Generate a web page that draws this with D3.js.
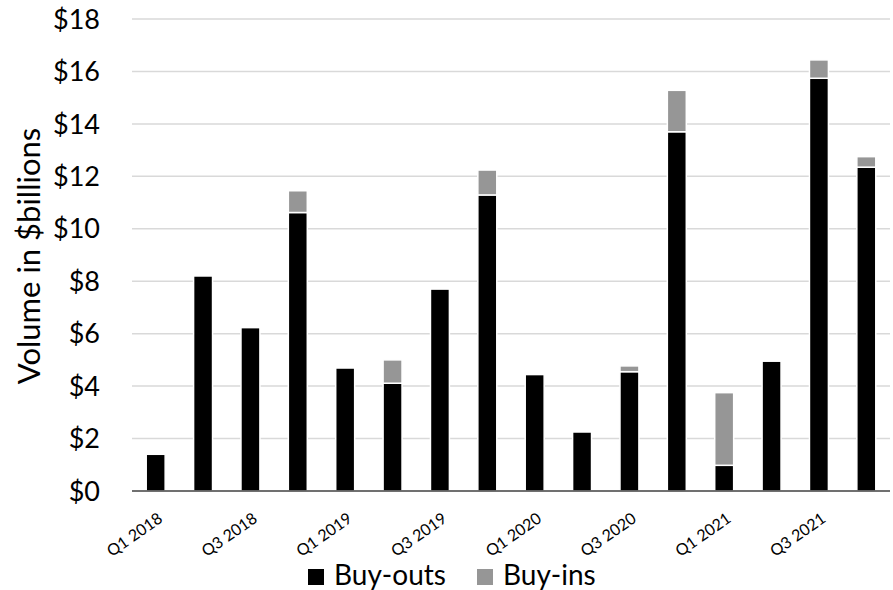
<!DOCTYPE html>
<html><head><meta charset="utf-8">
<script src="https://cdn.jsdelivr.net/npm/d3@7"></script>
<style>
html,body{margin:0;padding:0;background:#fff;}
text{font-family:Lato,"Open Sans",sans-serif;fill:#000;}
</style></head>
<body>
<svg id="chart" width="893" height="590"></svg>
<script>
const quarters = ["Q1 2018","Q2 2018","Q3 2018","Q4 2018","Q1 2019","Q2 2019","Q3 2019","Q4 2019",
                  "Q1 2020","Q2 2020","Q3 2020","Q4 2020","Q1 2021","Q2 2021","Q3 2021","Q4 2021"];
const buyOuts = [1.40, 8.20, 6.23, 10.62, 4.69, 4.11, 7.70, 11.29, 4.44, 2.25, 4.55, 13.70, 0.98, 4.95, 15.74, 12.35];
const buyIns  = [0, 0, 0, 0.83, 0, 0.89, 0, 0.95, 0, 0, 0.22, 1.58, 2.77, 0, 0.70, 0.40];
const seriesNames = ["Buy-outs","Buy-ins"];
const seriesColors = ["#000000","#969696"];
const yTicks = [0,2,4,6,8,10,12,14,16,18];
const shownLabels = ["Q1 2018","Q3 2018","Q1 2019","Q3 2019","Q1 2020","Q3 2020","Q1 2021","Q3 2021"];

const svg = d3.select("#chart");
const m = {left:132, right:890, top:19, bottom:491};

const x = d3.scaleBand().domain(quarters).range([m.left, m.right]).paddingInner(0.6).paddingOuter(0.3);
const y = d3.scaleLinear().domain([0,18]).range([m.bottom, m.top]);

// gridlines
svg.append("g").selectAll("line").data(yTicks.filter(d=>d>0)).join("line")
  .attr("x1", m.left).attr("x2", m.right)
  .attr("y1", d=>y(d)).attr("y2", d=>y(d))
  .attr("stroke","#d9d9d9").attr("stroke-width",1.5);

// y labels
svg.append("g").selectAll("text").data(yTicks).join("text")
  .attr("x", 100).attr("y", d=>y(d)).attr("dy","0.36em")
  .attr("text-anchor","end").style("font-size","27px")
  .text(d=>"$"+d);

// stacked data
const rows = quarters.map((q,i)=>({q, "Buy-outs":buyOuts[i], "Buy-ins":buyIns[i]}));
const stack = d3.stack().keys(seriesNames)(rows);

svg.append("g").selectAll("g").data(stack).join("g")
  .attr("fill",(d,i)=>seriesColors[i])
  .selectAll("rect").data(d=>d.filter(p=>p[1]-p[0]>0)).join("rect")
  .attr("x", d=>x(d.data.q)).attr("width", x.bandwidth())
  .attr("y", d=>y(d[1])).attr("height", d=>y(d[0])-y(d[1]))
  .attr("stroke","#fff").attr("stroke-width",1.5);

// x axis line
svg.append("line").attr("x1",m.left).attr("x2",m.right)
  .attr("y1",y(0)).attr("y2",y(0)).attr("stroke","#404040").attr("stroke-width",1.5);

// x labels
svg.append("g").selectAll("text").data(shownLabels).join("text")
  .attr("transform", d=>`translate(${x(d)+x.bandwidth()/2+8},${y(0)+30}) rotate(-35)`)
  .attr("text-anchor","end")
  .style("font-size","16px")
  .text(d=>d);

// y title
svg.append("text")
  .attr("transform",`translate(29,256) rotate(-90)`)
  .attr("text-anchor","middle").attr("dy","0.35em")
  .style("font-size","31px")
  .text("Volume in $billions");

// legend
const leg = svg.append("g");
const legItems = [{name:"Buy-outs", x:308},{name:"Buy-ins", x:477}];
legItems.forEach((it,i)=>{
  leg.append("rect").attr("x",it.x).attr("y",569).attr("width",16).attr("height",16).attr("fill",seriesColors[i]);
  leg.append("text").attr("x",it.x+26).attr("y",585)
    .style("font-size","28px").text(it.name);
});
</script>
</body></html>
